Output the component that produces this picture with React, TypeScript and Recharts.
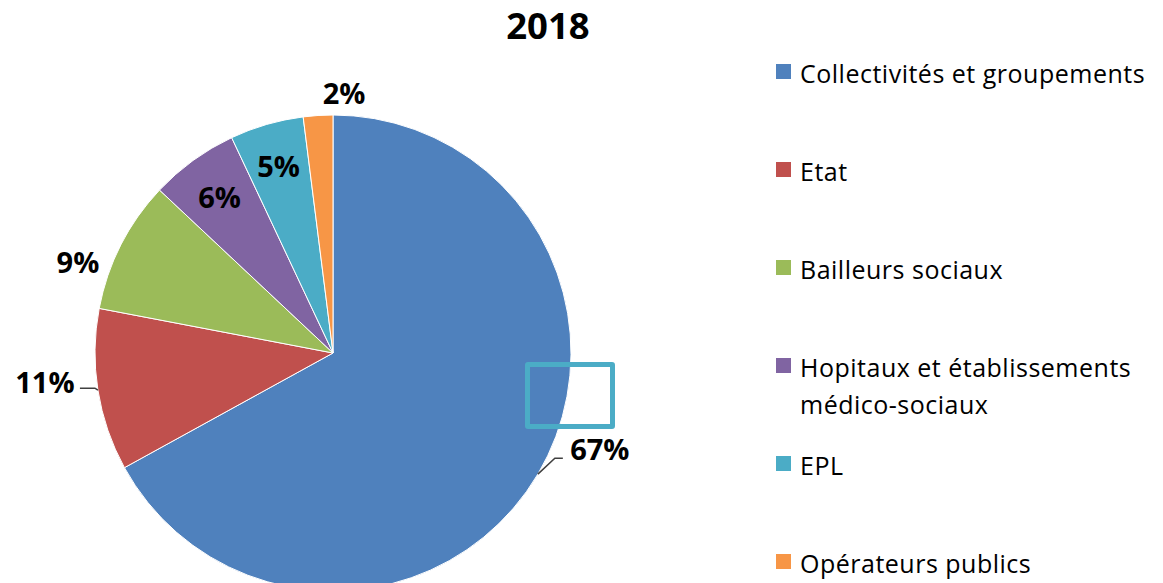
import React from "react";
import { PieChart, Pie, Cell, Legend } from "recharts";

const categories = [
  "Collectivités et groupements",
  "Etat",
  "Bailleurs sociaux",
  "Hopitaux et établissements médico-sociaux",
  "EPL",
  "Opérateurs publics",
];
const values = [67, 11, 9, 6, 5, 2];
const labels = ["67%", "11%", "9%", "6%", "5%", "2%"];
const colors = ["#4F81BD", "#C0504D", "#9BBB59", "#8064A2", "#4BACC6", "#F79646"];

// label placement: inside (polar radius) or outside (offset from the slice edge), with optional leader
const labelLayout = [
  { inside: false, dx: 62, dy: -26, leader: [[17, -16], [25, -16]] },
  { inside: false, dx: -53, dy: -9, leader: [[-3, -2], [-18, -2]] },
  { inside: false, dx: -43, dy: 17, leader: null },
  { inside: true, r: 193 },
  { inside: true, r: 195 },
  { inside: false, dx: 26, dy: -23, leader: null },
];

const data = categories.map((name, i) => ({ name, value: values[i], label: labels[i] }));

const FONT = "'Open Sans', 'Noto Sans', sans-serif";
const RAD = Math.PI / 180;

const renderLabel = (props: any) => {
  const { cx, cy, midAngle, outerRadius, index } = props;
  const cfg: any = labelLayout[index];
  const cos = Math.cos(-midAngle * RAD);
  const sin = Math.sin(-midAngle * RAD);
  let x: number, y: number;
  let path: string | null = null;
  if (cfg.inside) {
    x = cx + cfg.r * cos;
    y = cy + cfg.r * sin;
  } else {
    const ex = cx + outerRadius * cos;
    const ey = cy + outerRadius * sin;
    x = ex + cfg.dx;
    y = ey + cfg.dy;
    if (cfg.leader) {
      path = `M${ex},${ey}` + cfg.leader.map((p: number[]) => ` L${ex + p[0]},${ey + p[1]}`).join("");
    }
  }
  return (
    <g key={`lbl-${index}`}>
      {path && <path d={path} stroke="#404040" strokeWidth={1.5} fill="none" />}
      <text
        x={x}
        y={y}
        textAnchor="middle"
        dominantBaseline="central"
        fontFamily={FONT}
        fontWeight={700}
        fontSize={29}
        fill="#000"
      >
        {data[index].label}
      </text>
    </g>
  );
};

const renderLegend = () => (
  <div style={{ fontFamily: FONT, fontSize: 25, letterSpacing: 0.5, color: "#000" }}>
    {data.map((d, i) => (
      <div key={d.name} style={{ height: 98, display: "flex", alignItems: "flex-start" }}>
        <div
          style={{
            width: 15,
            height: 15,
            background: colors[i],
            marginTop: 9,
            marginRight: 9,
            flex: "0 0 auto",
          }}
        />
        <div style={{ lineHeight: "37px", width: 360 }}>{d.name}</div>
      </div>
    ))}
  </div>
);

export default function App() {
  return (
    <div style={{ position: "absolute", left: 0, top: 0, width: 1163, height: 583, background: "#fff", overflow: "hidden" }}>
      <PieChart width={1163} height={583} style={{ position: "absolute", left: 0, top: 0 }}>
        <Pie
          data={data}
          dataKey="value"
          nameKey="name"
          cx={328}
          cy={348}
          outerRadius={238}
          startAngle={90}
          endAngle={-270}
          stroke="#ffffff"
          strokeWidth={1}
          label={renderLabel}
          labelLine={false}
          isAnimationActive={false}
        >
          {data.map((d, i) => (
            <Cell key={d.name} fill={colors[i]} />
          ))}
        </Pie>
        <Legend
          content={renderLegend}
          wrapperStyle={{ position: "absolute", left: 776, top: 55, width: 387 }}
        />
      </PieChart>
      <div
        style={{
          position: "absolute",
          left: 448,
          top: 0,
          width: 200,
          textAlign: "center",
          fontFamily: FONT,
          fontWeight: 700,
          fontSize: 36.5,
          lineHeight: "50px",
          zIndex: 2,
        }}
      >
        2018
      </div>
      <div
        style={{
          position: "absolute",
          left: 525,
          top: 362,
          width: 80,
          height: 57,
          border: "5px solid #4BACC6",
          borderRadius: 3,
        }}
      />
    </div>
  );
}
